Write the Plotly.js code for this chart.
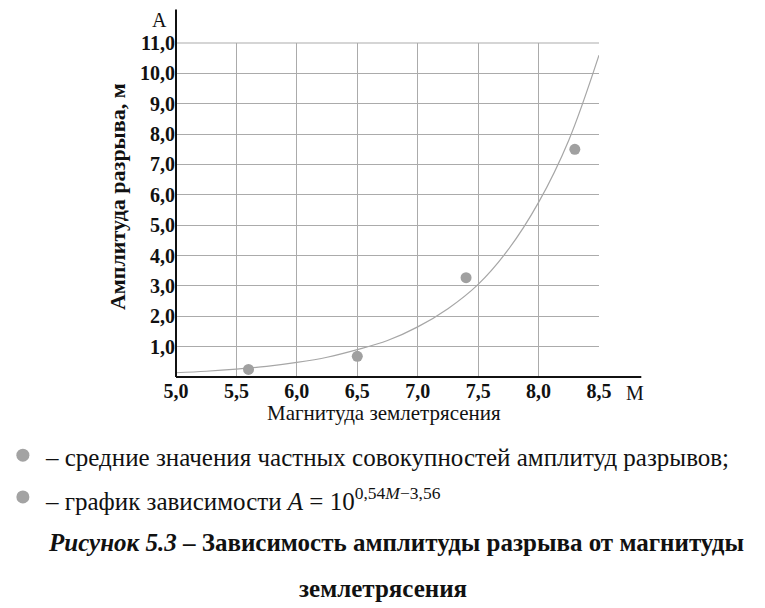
<!DOCTYPE html>
<html><head><meta charset="utf-8">
<script src="https://cdn.plot.ly/plotly-3.0.1.min.js"></script>
<style>body{margin:0;background:#fff}#chart{width:765px;height:608px}</style>
</head><body><div id="chart"></div>
<script>
// Observed means (points)
const magnitudes = [5.6, 6.5, 7.4, 8.3];
const amplitudes = [0.25, 0.68, 3.27, 7.5];
// Dependence curve A = 10^(0.54M-3.56)
const curveM = [5.0, 5.25, 5.5, 5.75, 6.0, 6.25, 6.5, 6.75, 7.0, 7.25, 7.5, 7.75, 8.0, 8.25, 8.5];
const curveA = [0.14, 0.19, 0.26, 0.35, 0.48, 0.65, 0.9, 1.2, 1.65, 2.25, 3.05, 4.2, 5.75, 7.8, 10.6];
// Tick labels
const xTickVals = [5.0, 5.5, 6.0, 6.5, 7.0, 7.5, 8.0, 8.5];
const xTickText = ['5,0', '5,5', '6,0', '6,5', '7,0', '7,5', '8,0', '8,5'];
const yTickVals = [1, 2, 3, 4, 5, 6, 7, 8, 9, 10, 11];
const yTickText = ['1,0', '2,0', '3,0', '4,0', '5,0', '6,0', '7,0', '8,0', '9,0', '10,0', '11,0'];

const serif = 'Liberation Serif, Times New Roman, serif';
const traces = [
  {x: curveM, y: curveA, mode: 'lines', line: {color: '#a6a6a6', width: 1.2, shape: 'spline'}, hoverinfo: 'skip'},
  {x: magnitudes, y: amplitudes, mode: 'markers', marker: {color: '#a0a0a0', size: 11}}
];
const bx = -0.362, rx = 0.0154, ry = 0.0195;
const layout = {
  width: 765, height: 608,
  margin: {l: 176, r: 166, t: 43, b: 231},
  paper_bgcolor: '#fff', plot_bgcolor: '#fff',
  showlegend: false,
  font: {family: serif, color: '#111'},
  xaxis: {range: [5, 8.5], tickvals: xTickVals, ticktext: xTickText, showgrid: true, gridcolor: '#ababab', gridwidth: 1,
          zeroline: false, showline: false, ticks: '', tickfont: {size: 20, family: serif, weight: 'bold'}, fixedrange: true},
  yaxis: {range: [0, 11], tickvals: yTickVals, ticktext: yTickText, showgrid: true, gridcolor: '#ababab', gridwidth: 1,
          zeroline: false, showline: false, ticks: '', tickfont: {size: 20, family: serif, weight: 'bold'}, fixedrange: true},
  shapes: [
    {type: 'line', xref: 'paper', yref: 'paper', x0: 0, x1: 1.0, y0: 1, y1: 1, line: {color: '#ababab', width: 1}},
    {type: 'line', xref: 'paper', yref: 'paper', x0: 0, x1: 0, y0: 0, y1: 1.1, line: {color: '#111', width: 2}},
    {type: 'line', xref: 'paper', yref: 'paper', x0: 0, x1: 1.1, y0: 0, y1: 0, line: {color: '#111', width: 2}},
    {type: 'circle', xref: 'paper', yref: 'paper', x0: bx - rx, x1: bx + rx, y0: -0.234 - ry, y1: -0.234 + ry, fillcolor: '#a3a3a3', line: {width: 0}},
    {type: 'circle', xref: 'paper', yref: 'paper', x0: bx - rx, x1: bx + rx, y0: -0.359 - ry, y1: -0.359 + ry, fillcolor: '#a3a3a3', line: {width: 0}}
  ],
  annotations: [
    {text: 'A', xref: 'paper', yref: 'paper', x: -0.04, y: 1.07, xanchor: 'center', yanchor: 'middle', showarrow: false, font: {size: 20, family: serif}},
    {text: 'M', xref: 'paper', yref: 'paper', x: 1.085, y: -0.048, xanchor: 'center', yanchor: 'middle', showarrow: false, font: {size: 20, family: serif}},
    {text: 'Амплитуда разрыва, м', xref: 'paper', yref: 'paper', x: -0.137, y: 0.539, textangle: -90, xanchor: 'center', yanchor: 'middle', showarrow: false, font: {size: 22, family: serif, weight: 'bold'}},
    {text: 'Магнитуда землетрясения', xref: 'paper', yref: 'paper', x: 0.492, y: -0.108, xanchor: 'center', yanchor: 'middle', showarrow: false, font: {size: 21, family: serif}},
    {text: '– средние значения частных совокупностей амплитуд разрывов;', xref: 'paper', yref: 'paper', x: -0.314, y: -0.240, xanchor: 'left', yanchor: 'middle', showarrow: false, font: {size: 25, family: serif}},
    {text: '– график зависимости <i>A</i> = 10<sup>0,54<i>M</i>−3,56</sup>', xref: 'paper', yref: 'paper', x: -0.314, y: -0.365, xanchor: 'left', yanchor: 'middle', showarrow: false, font: {size: 25, family: serif}},
    {text: '<b><i>Рисунок 5.3</i> – Зависимость амплитуды разрыва от магнитуды</b>', xref: 'paper', yref: 'paper', x: 0.52, y: -0.497, xanchor: 'center', yanchor: 'middle', showarrow: false, font: {size: 25, family: serif}},
    {text: '<b>землетрясения</b>', xref: 'paper', yref: 'paper', x: 0.49, y: -0.632, xanchor: 'center', yanchor: 'middle', showarrow: false, font: {size: 25, family: serif}}
  ]
};
Plotly.newPlot('chart', traces, layout, {displayModeBar: false, staticPlot: true});
</script></body></html>
